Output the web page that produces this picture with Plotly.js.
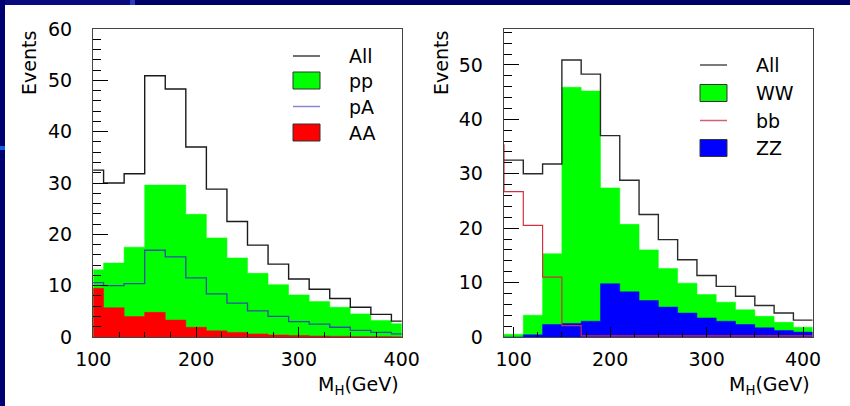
<!DOCTYPE html>
<html>
<head>
<meta charset="utf-8">
<script src="https://cdn.plot.ly/plotly-3.0.1.min.js"></script>
<style>
html,body{margin:0;padding:0;background:#fff;}
#chart{width:850px;height:406px;}
</style>
</head>
<body>
<div id="chart"></div>
<script>
// ---- data (bin edges in GeV, events per bin) ----
const binEdges = [90,110,130,150,170,190,210,230,250,270,290,310,330,350,370,390,410];
const bbEdges  = [70,90,110,130,150,170,190,210,230,250,270,290,310,330,350,370,390,410];

// left panel
const allEvents = [32.5,30.0,31.8,50.9,48.3,37.0,28.8,22.5,17.9,14.2,11.3,9.3,7.5,5.8,4.4,3.1];
const ppEvents  = [13.1,14.4,17.5,29.6,29.6,23.9,19.3,15.4,12.4,10.2,8.2,6.9,5.8,4.5,3.2,2.6];
const pAEvents  = [10.6,10.0,10.4,16.9,15.6,11.5,8.4,6.6,5.1,4.0,3.0,2.5,1.9,1.3,0.9,0.6];
const AAEvents  = [9.5,5.7,4.0,4.8,3.3,1.9,1.2,0.9,0.6,0.4,0.3,0.2,0.15,0.1,0.08,0.05];

// right panel
const WWEvents  = [0.5,4.0,15.3,45.9,45.2,27.4,20.7,16.0,12.6,9.9,7.8,6.4,5.0,3.8,2.7,1.8];
const bbEvents  = [35.3,26.7,20.5,11.0,2.1,0.2,0.2,0.2,0.2,0.2,0.2,0.2,0.2,0.2,0.2,0.2,0.2];
const ZZEvents  = [0,0.4,2.3,2.5,2.9,9.8,8.3,6.7,5.5,4.4,3.5,2.9,2.3,1.7,1.2,0.9];

const xTickVals = [100,200,300,400];
const leftLegend  = ['All','pp','pA','AA'];
const rightLegend = ['All','WW','bb','ZZ'];

// ---- helpers ----
const W = 850, H = 406;
const px = x => x / W;
const py = y => 1 - y / H;
function stepTrace(edges, counts, xa, ya, color, fill, width) {
  const y = counts.concat([counts[counts.length - 1]]);
  const t = {
    type: 'scatter', mode: 'lines', x: edges, y: y,
    xaxis: xa, yaxis: ya, showlegend: false, hoverinfo: 'skip',
    line: {shape: 'hv', color: color, width: width || 1.3}
  };
  if (fill) { t.fill = 'tozeroy'; t.fillcolor = fill; }
  return t;
}

const traces = [
  stepTrace(binEdges, ppEvents, 'x', 'y', '#00ff00', '#00ff00', 0.5),
  stepTrace(binEdges, AAEvents, 'x', 'y', '#ff0000', '#ff0000', 0.5),
  stepTrace(binEdges, pAEvents, 'x', 'y', '#3050a8', null, 1.3),
  stepTrace(binEdges, allEvents, 'x', 'y', '#1a1a1a', null, 1.4),

  stepTrace(binEdges, WWEvents, 'x2', 'y2', '#00ff00', '#00ff00', 0.5),
  stepTrace(binEdges, ZZEvents, 'x2', 'y2', '#0000ff', '#0000ff', 0.5),
  stepTrace(bbEdges, bbEvents, 'x2', 'y2', '#d03040', null, 1.2),
  stepTrace(binEdges, allEvents, 'x2', 'y2', '#2a2a2a', null, 1.4)
];

const font = {family: 'DejaVu Sans, Liberation Sans, Arial', size: 19, color: '#000'};

function xAxis(domain, range) {
  return {
    domain: domain, range: range, fixedrange: true,
    tickmode: 'array', tickvals: xTickVals, ticktext: xTickVals.map(String),
    ticks: 'inside', ticklen: 10, tickwidth: 1, tickcolor: '#000',
    minor: {dtick: 25, tick0: 100, ticks: 'inside', ticklen: 5, tickwidth: 1, tickcolor: '#000', showgrid: false},
    showgrid: false, zeroline: false,
    showline: true, mirror: true, linecolor: '#444', linewidth: 1.3,
    tickfont: font, ticklabelstandoff: 5, automargin: false
  };
}
function yAxis(anchor, range) {
  return {
    anchor: anchor, domain: [py(337), py(29)], range: range, fixedrange: true,
    dtick: 10, tick0: 0,
    ticks: 'inside', ticklen: 15, tickwidth: 1, tickcolor: '#000',
    minor: {dtick: 2, ticks: 'inside', ticklen: 8, tickwidth: 1, tickcolor: '#000', showgrid: false},
    showgrid: false, zeroline: false,
    showline: true, mirror: true, linecolor: '#444', linewidth: 1.3,
    tickfont: font, ticklabelstandoff: 16, automargin: false
  };
}

const shapes = [
  // slide background bands
  {type:'rect', xref:'paper', yref:'paper', x0:0, x1:1, y0:py(5), y1:1, fillcolor:'#00006a', line:{width:0}, layer:'below'},
  {type:'rect', xref:'paper', yref:'paper', x0:0, x1:px(130), y0:py(5), y1:1, fillcolor:'#0a0a7e', line:{width:0}, layer:'below'},
  {type:'rect', xref:'paper', yref:'paper', x0:px(130), x1:px(135), y0:py(5), y1:1, fillcolor:'#2a3cc0', line:{width:0}, layer:'below'},
  {type:'rect', xref:'paper', yref:'paper', x0:0, x1:px(5), y0:0, y1:1, fillcolor:'#000070', line:{width:0}, layer:'below'},
  {type:'rect', xref:'paper', yref:'paper', x0:0, x1:px(5), y0:py(150), y1:py(146), fillcolor:'#1060e0', line:{width:0}, layer:'below'},

  // left legend samples
  {type:'line', xref:'paper', yref:'paper', x0:px(293), x1:px(320), y0:py(56), y1:py(56), line:{color:'#222', width:1.3}},
  {type:'rect', xref:'paper', yref:'paper', x0:px(293), x1:px(320), y0:py(89), y1:py(72), fillcolor:'#00ff00', line:{color:'#333', width:1}},
  {type:'line', xref:'paper', yref:'paper', x0:px(293), x1:px(320), y0:py(106.5), y1:py(106.5), line:{color:'#8a86d0', width:1.5}},
  {type:'rect', xref:'paper', yref:'paper', x0:px(293), x1:px(320), y0:py(141), y1:py(124), fillcolor:'#ff0000', line:{color:'#333', width:1}},

  // right legend samples
  {type:'line', xref:'paper', yref:'paper', x0:px(700), x1:px(727), y0:py(65), y1:py(65), line:{color:'#333', width:1.3}},
  {type:'rect', xref:'paper', yref:'paper', x0:px(700), x1:px(727), y0:py(101.5), y1:py(84.5), fillcolor:'#00ff00', line:{color:'#333', width:1}},
  {type:'line', xref:'paper', yref:'paper', x0:px(700), x1:px(727), y0:py(120.5), y1:py(120.5), line:{color:'#d06070', width:1.5}},
  {type:'rect', xref:'paper', yref:'paper', x0:px(700), x1:px(727), y0:py(156.5), y1:py(139.5), fillcolor:'#0000ff', line:{color:'#333', width:1}}
];

function ann(text, x, y, xanchor, extra) {
  return Object.assign({xref:'paper', yref:'paper', x:px(x), y:py(y), text:text,
    showarrow:false, xanchor:xanchor, yanchor:'middle', font:font}, extra || {});
}

const leftRows = [56, 81, 106.5, 132.5];
const rightRows = [65, 93, 120.5, 148];
const annotations = [
  ann('Events', 29, 63, 'center', {textangle:-90}),
  ann('Events', 441, 63, 'center', {textangle:-90}),
  ann('M<sub>H</sub>(GeV)', 401, 385, 'right'),
  ann('M<sub>H</sub>(GeV)', 812, 385, 'right')
];
leftLegend.forEach((t, i) => annotations.push(ann(t, 347, leftRows[i], 'left')));
rightLegend.forEach((t, i) => annotations.push(ann(t, 754, rightRows[i], 'left')));

const layout = {
  width: W, height: H,
  margin: {l:0, r:0, t:0, b:0},
  paper_bgcolor: '#ffffff', plot_bgcolor: '#ffffff',
  showlegend: false,
  xaxis: Object.assign(xAxis([px(93.3), px(401.7)], [100, 400]), {anchor:'y'}),
  yaxis: yAxis('x', [0, 60]),
  xaxis2: Object.assign(xAxis([px(504), px(812.7)], [90, 410]), {anchor:'y2'}),
  yaxis2: yAxis('x2', [0, 56.6]),
  shapes: shapes,
  annotations: annotations,
  font: font
};

Plotly.newPlot('chart', traces, layout, {displayModeBar:false, staticPlot:true});
</script>
</body>
</html>
